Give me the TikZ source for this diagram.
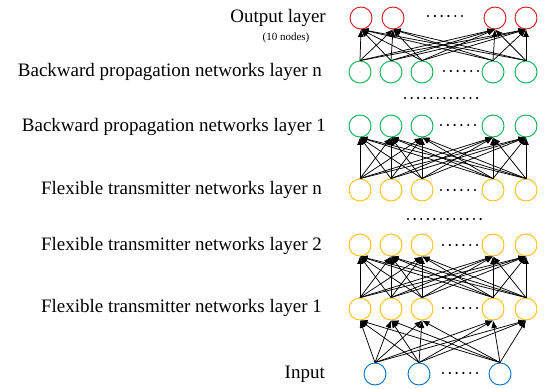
\documentclass[tikz,border=0pt]{standalone}
\usepackage{fontspec}
\setmainfont{Liberation Serif}
\usetikzlibrary{arrows.meta}
\definecolor{outred}{RGB}{210,20,20}
\definecolor{bpgreen}{RGB}{0,176,80}
\definecolor{ftyellow}{RGB}{255,190,0}
\definecolor{inblue}{RGB}{0,112,192}
\begin{document}
\begin{tikzpicture}[x=1pt,y=-1pt,
  unit/.style={circle,draw,line width=0.9pt,minimum size=22pt,inner sep=0pt},
  link/.style={line width=0.75pt,-{Latex[length=7.5pt,width=6pt]}},
  lbl/.style={anchor=east,inner sep=0pt,font=\fontsize{19}{22}\selectfont}]
\useasboundingbox (0,0) rectangle (545,388);
% neurons
\foreach \x [count=\i] in {361,393,495,526}
  \node[unit,outred] (out\i) at (\x,18) {};
\foreach \x [count=\i] in {360,391,422,493,526}{
  \node[unit,bpgreen] (bpn\i) at (\x,72) {};
  \node[unit,bpgreen] (bpa\i) at (\x,126) {};
  \node[unit,ftyellow] (ftn\i) at (\x,190) {};
  \node[unit,ftyellow] (ftb\i) at (\x,245) {};
  \node[unit,ftyellow] (fta\i) at (\x,309) {};
}
\node[unit,inblue] (in1) at (375,374) {};
\node[unit,inblue] (in2) at (419,374) {};
\node[unit,inblue] (in3) at (500,374) {};
% connections
\foreach \i in {1,...,5}{
  \foreach \j in {1,...,4}\draw[link] (bpn\i.north) -- (out\j.south);
  \foreach \j in {1,...,5}{
    \draw[link] (ftn\i.north) -- (bpa\j.south);
    \draw[link] (fta\i.north) -- (ftb\j.south);
  }
}
\foreach \i in {1,2,3}\foreach \j in {1,...,5}
  \draw[link] (in\i.north) -- (fta\j.south);
% dots
\foreach \k in {0,...,5}{
  \fill (428+\k*6.8,16) circle (1.2pt);
  \fill (444+\k*6.8,71) circle (1.2pt);
  \fill (441+\k*6.8,125) circle (1.2pt);
  \fill (441+\k*6.8,190) circle (1.2pt);
  \fill (443+\k*6.8,245) circle (1.2pt);
  \fill (443+\k*6.8,308) circle (1.2pt);
  \fill (443+\k*6.8,373) circle (1.2pt);
}
\foreach \k in {0,...,11}{
  \fill (405+\k*6.55,98) circle (1.2pt);
  \fill (408+\k*6.6,219) circle (1.2pt);
}
% labels
\node[lbl] (lout) at (326,18) {Output layer};
\node[font=\fontsize{11}{13}\selectfont] (lcount) at (286,38) {(10 nodes)};
\node[lbl] (lbpn) at (322,72) {Backward propagation networks layer n};
\node[lbl] (lbpa) at (326,127) {Backward propagation networks layer 1};
\node[lbl] (lftn) at (322,190) {Flexible transmitter networks layer n};
\node[lbl] (lftb) at (322,246) {Flexible transmitter networks layer 2};
\node[lbl] (lfta) at (322,308) {Flexible transmitter networks layer 1};
\node[lbl] (lin) at (325,374) {Input};
\end{tikzpicture}
\end{document}
